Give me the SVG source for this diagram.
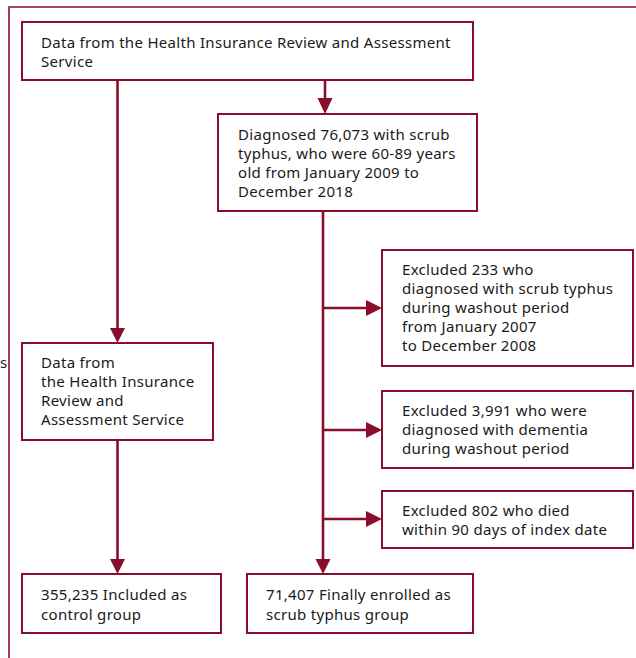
<svg xmlns="http://www.w3.org/2000/svg" width="636" height="658" viewBox="0 0 636 658">
<defs>
<style>
.box{fill:#fff;stroke:#8b0d2c;stroke-width:2}
.frame{fill:none;stroke:#8b0d2c;stroke-width:1.6}
.ln{fill:none;stroke:#8b0d2c;stroke-width:2.6}
.ah{fill:#8b0d2c}
text{font-family:"Noto Sans","Open Sans","DejaVu Sans",sans-serif;font-size:15px;letter-spacing:0.3px;fill:#1a1a1a}
</style>
</defs>
<rect width="636" height="658" fill="#fff"/>
<path class="frame" d="M9,660 V7 H640"/>
<text x="0" y="368" letter-spacing="0">s</text>
<g id="connectors">
<line class="ln" x1="325" y1="80" x2="325" y2="100"/>
<polygon class="ah" points="317.5,98 332.5,98 325,114"/>
<line class="ln" x1="117.5" y1="80" x2="117.5" y2="330"/>
<polygon class="ah" points="110,328 125,328 117.5,343"/>
<line class="ln" x1="117.5" y1="440" x2="117.5" y2="562"/>
<polygon class="ah" points="110,559 125,559 117.5,574"/>
<line class="ln" x1="323" y1="211" x2="323" y2="562"/>
<polygon class="ah" points="315.5,559 330.5,559 323,574"/>
<line class="ln" x1="323" y1="308" x2="368" y2="308"/>
<polygon class="ah" points="366,300 366,316 382,308"/>
<line class="ln" x1="323" y1="430" x2="368" y2="430"/>
<polygon class="ah" points="366,422 366,438 382,430"/>
<line class="ln" x1="323" y1="519" x2="368" y2="519"/>
<polygon class="ah" points="366,511 366,527 382,519"/>
</g>
<g id="n1">
<rect class="box" x="22" y="22" width="451" height="58"/>
<text x="41" y="48">Data from the Health Insurance Review and Assessment</text>
<text x="41" y="67">Service</text>
</g>
<g id="n2">
<rect class="box" x="218" y="114" width="259" height="97"/>
<text x="238" y="140">Diagnosed 76,073 with scrub</text>
<text x="238" y="159">typhus, who were 60-89 years</text>
<text x="238" y="178">old from January 2009 to</text>
<text x="238" y="197">December 2018</text>
</g>
<g id="n3">
<rect class="box" x="22" y="343" width="191" height="97"/>
<text x="41" y="368">Data from</text>
<text x="41" y="387">the Health Insurance</text>
<text x="41" y="406">Review and</text>
<text x="41" y="425">Assessment Service</text>
</g>
<g id="n4">
<rect class="box" x="382" y="250" width="251" height="116"/>
<text x="402" y="275">Excluded 233 who</text>
<text x="402" y="294">diagnosed with scrub typhus</text>
<text x="402" y="313">during washout period</text>
<text x="402" y="332">from January 2007</text>
<text x="402" y="351">to December 2008</text>
</g>
<g id="n5">
<rect class="box" x="382" y="391" width="251" height="77"/>
<text x="402" y="416">Excluded 3,991 who were</text>
<text x="402" y="435">diagnosed with dementia</text>
<text x="402" y="454">during washout period</text>
</g>
<g id="n6">
<rect class="box" x="382" y="491" width="251" height="57"/>
<text x="402" y="516">Excluded 802 who died</text>
<text x="402" y="535">within 90 days of index date</text>
</g>
<g id="n7">
<rect class="box" x="22" y="574" width="199" height="59"/>
<text x="41" y="600">355,235 Included as</text>
<text x="41" y="620">control group</text>
</g>
<g id="n8">
<rect class="box" x="247" y="574" width="226" height="59"/>
<text x="266" y="600">71,407 Finally enrolled as</text>
<text x="266" y="620">scrub typhus group</text>
</g>
</svg>
